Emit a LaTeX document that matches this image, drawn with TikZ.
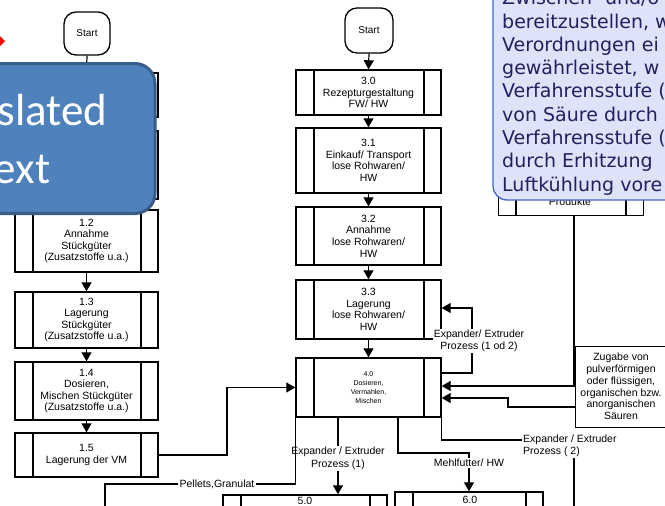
\documentclass[tikz,border=0pt]{standalone}
\usepackage{fontspec}
\setmainfont{Liberation Sans}
\newfontfamily\calfont{Carlito}
\newfontfamily\dvfont{DejaVu Sans}
\usetikzlibrary{arrows.meta,calc}
\definecolor{bluefill}{HTML}{4F81BD}
\definecolor{blueedge}{HTML}{385D8A}
\definecolor{callfill}{HTML}{DDE4FA}
\definecolor{calledge}{HTML}{4169C8}
\definecolor{calltext}{HTML}{22205E}
\tikzset{
  proc/.style={draw, line width=1.4pt, inner sep=0pt, align=center,
    font=\fontsize{10.5}{11.6}\selectfont,
    path picture={\draw[line width=1.1pt]
      ([xshift=18pt]path picture bounding box.north west) -- ([xshift=18pt]path picture bounding box.south west)
      ([xshift=-17pt]path picture bounding box.north east) -- ([xshift=-17pt]path picture bounding box.south east);}},
  startbox/.style={draw, line width=1.3pt, rounded corners=12pt, inner sep=0pt,
    font=\fontsize{10}{12}\selectfont},
  conn/.style={line width=1.2pt},
  arr/.style={-{Triangle[length=9pt,width=10pt]}},
  lbl/.style={fill=white, inner sep=1pt, align=center, font=\fontsize{10.5}{12.5}\selectfont},
  calltxt/.style={anchor=base west, inner sep=0pt, text=calltext, font=\dvfont\fontsize{19}{23}\selectfont},
}
\begin{document}
\begin{tikzpicture}[x=1pt,y=-1pt]
\useasboundingbox (0,0) rectangle (665,506);
\clip (0,0) rectangle (665,506);

% ---------- left column ----------
\node[startbox, minimum width=46pt, minimum height=43pt] (s1) at (87,33.5) {Start};
\node[proc, minimum width=143pt, minimum height=44pt] (n10) at (86.5,95) {};
\node[proc, minimum width=143pt, minimum height=68pt] (n11) at (86.5,165) {};
\node[proc, minimum width=143pt, minimum height=62pt] (n12) at (86.5,241) {1.2\\Annahme\\Stückgüter\\(Zusatzstoffe u.a.)};
\node[proc, minimum width=143pt, minimum height=56pt] (n13) at (86.5,320) {1.3\\Lagerung\\Stückgüter\\(Zusatzstoffe u.a.)};
\node[proc, minimum width=143pt, minimum height=58pt] (n14) at (86.5,391) {1.4\\Dosieren,\\Mischen Stückgüter\\(Zusatzstoffe u.a.)};
\node[proc, minimum width=143pt, minimum height=44pt] (n15) at (86.5,455) {1.5\\Lagerung der VM};
\draw[conn,arr] (s1.south) -- (n10.north);
\draw[conn,arr] (n10.south) -- (n11.north);
\draw[conn,arr] (n11.south) -- (n12.north);
\draw[conn,arr] (n12.south) -- (n13.north);
\draw[conn,arr] (n13.south) -- (n14.north);
\draw[conn,arr] (n14.south) -- (n15.north);

% ---------- centre column ----------
\node[startbox, minimum width=48pt, minimum height=45pt] (s3) at (369,30.5) {Start};
\node[proc, minimum width=145pt, minimum height=45pt] (n30) at (368.5,92.5) {3.0\\Rezepturgestaltung\\FW/ HW};
\node[proc, minimum width=145pt, minimum height=65pt] (n31) at (368.5,160.5) {3.1\\Einkauf/ Transport\\lose Rohwaren/\\HW};
\node[proc, minimum width=145pt, minimum height=58pt] (n32) at (368.5,236) {3.2\\Annahme\\lose Rohwaren/\\HW};
\node[proc, minimum width=145pt, minimum height=59pt] (n33) at (368.5,309.5) {3.3\\Lagerung\\lose Rohwaren/\\HW};
\node[proc, minimum width=145pt, minimum height=59pt, font=\fontsize{7}{8.8}\selectfont] (n40) at (368.5,387.5) {4.0\\Dosieren,\\Vermahlen,\\Mischen};
\draw[conn,arr] (s3.south) -- (n30.north);
\draw[conn,arr] (n30.south) -- (n31.north);
\draw[conn,arr] (n31.south) -- (n32.north);
\draw[conn,arr] (n32.south) -- (n33.north);
\draw[conn,arr] (n33.south) -- (n40.north);

% bottom boxes
\node[proc, minimum width=164pt, minimum height=40pt] (n50) at (305,515) {};
\node[inner sep=0pt, font=\fontsize{10.5}{12}\selectfont] (t50) at (305,501) {5.0};
\node[proc, minimum width=148pt, minimum height=40pt] (n60) at (469,512) {};
\node[inner sep=0pt, font=\fontsize{10.5}{12}\selectfont] (t60) at (470,500) {6.0};

% right-side boxes
\node[proc, line width=1pt, minimum width=145pt, minimum height=65pt] (prod) at (570.5,182.5) {};
\node[inner sep=0pt, font=\fontsize{10.5}{12}\selectfont] (prodt) at (570,202) {Produkte};
\node[draw, line width=0.9pt, minimum width=92pt, minimum height=81pt, inner sep=0pt, align=center,
      font=\fontsize{10.5}{11.8}\selectfont] (zug) at (621,386.5)
      {Zugabe von\\pulverförmigen\\oder flüssigen,\\organischen bzw.\\anorganischen\\Säuren};

% helper coordinates
\coordinate (Y308) at (0,308);
\coordinate (Y373) at (0,373);
\coordinate (Y386) at (0,386);
\coordinate (Y398) at (0,398);
\coordinate (Y407) at (0,407);
\coordinate (lpc) at (472,340);
\coordinate (c15) at (227,387.5);
\coordinate (m1) at (398,453);
\coordinate (pelend) at (105,512);
\coordinate (e2end) at (574,512);

% loop 4.0 -> 3.3
\draw[conn,arr] (n40.east |- Y373) -| (lpc) |- (n33.east |- Y308);
\node[lbl] (epl) at (479,341) {Expander/ Extruder\\Prozess (1 od 2)};

% 1.5 -> 4.0
\draw[conn,arr] (n15.east) -| (c15) -- (n40.west);

% Produkte / Zugabe -> 4.0
\draw[conn,arr] (prod.south -| e2end) |- (n40.east |- Y386);
\draw[conn,arr] (zug.west |- Y407) -- (508,407) |- (n40.east |- Y398);

% outputs of 4.0
\node[lbl] (ep1) at (338,458.5) {Expander / Extruder\\Prozess (1)};
\draw[conn] (n40.south -| ep1.north) -- (ep1.north);
\draw[conn,arr] (ep1.south) -- (ep1.south |- n50.north);

\node[lbl] (pel) at (217,484) {Pellets,Granulat};
\draw[conn] (n40.south west) |- (pel.east);
\draw[conn] (pel.west) -| (pelend);

\node[lbl] (mehl) at (469,463) {Mehlfutter/ HW};
\draw[conn] (n40.south -| m1) -- (m1) -| (mehl.north);
\draw[conn,arr] (mehl.south) -- (mehl.south |- n60.north);

\node[lbl, anchor=west, align=left] (ep2) at (522,446) {Expander / Extruder\\Prozess ( 2)};
\draw[conn] (n40.south east) |- ([yshift=6pt]ep2.west);
\draw[conn] (ep2.south -| e2end) -- (e2end);

% ---------- callout (top right) ----------
\draw[fill=callfill, draw=calledge, line width=1.3pt, rounded corners=14pt] (493,-40) rectangle (720,200);
\node[calltxt] (cl1) at (502,4.7) {Zwischen- und/o};
\node[calltxt] (cl2) at (502,28) {bereitzustellen, w};
\node[calltxt] (cl3) at (502,51.3) {Verordnungen ei};
\node[calltxt] (cl4) at (502,74.6) {gewährleistet, w};
\node[calltxt] (cl5) at (502,97.9) {Verfahrensstufe (};
\node[calltxt] (cl6) at (502,121.2) {von Säure durch};
\node[calltxt] (cl7) at (502,144.5) {Verfahrensstufe (};
\node[calltxt] (cl8) at (502,167.8) {durch Erhitzung};
\node[calltxt] (cl9) at (502,191.1) {Luftkühlung vore};

% ---------- translated-text box (top left) ----------
\draw[fill=bluefill, draw=blueedge, line width=3pt, rounded corners=20pt] (-140,63.5) rectangle (155,213.5);
\node[anchor=base, inner sep=0pt, text=white, font=\calfont\fontsize{45}{54}\selectfont] (tt1) at (13,125) {Translated};
\node[anchor=base, inner sep=0pt, text=white, font=\calfont\fontsize{45}{54}\selectfont] (tt2) at (13,183) {Text};

% red mark at left edge
\fill[red] (0,36) -- (5,41) -- (0,46) -- cycle;
\end{tikzpicture}
\end{document}
